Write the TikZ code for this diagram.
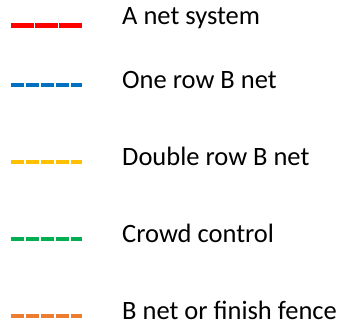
\documentclass[tikz,border=0pt]{standalone}
\usepackage{fontspec}
\setmainfont{Carlito}
\usepackage{tikz}
\usetikzlibrary{positioning}

\definecolor{netred}{HTML}{FF0000}
\definecolor{netblue}{HTML}{0070C0}
\definecolor{netyellow}{HTML}{FFC000}
\definecolor{netgreen}{HTML}{00B050}
\definecolor{netorange}{HTML}{ED7D31}

\begin{document}
\begin{tikzpicture}[
    x=1pt, y=-1pt,
    legtext/.style={anchor=base west, inner sep=0pt, font=\fontsize{26.5}{30}\selectfont},
    solidline/.style={line width=4.4pt, dash pattern=on 23pt off 1pt},
    dashline/.style={line width=4pt, dash pattern=on 12.5pt off 2.5pt}
]
    \useasboundingbox (0,0) rectangle (347,329);

    % === Labels ===
    \node[legtext] (anet) at (122, 25) {A net system};
    \node[legtext] (onerow) at (122, 88) {One row B net};
    \node[legtext] (dblrow) at (122, 165) {Double row B net};
    \node[legtext] (crowd) at (122, 242) {Crowd control};
    \node[legtext] (fence) at (122, 319) {B net or finish fence};

    % === Line samples ===
    \coordinate (anet-a) at (11, 25.5);   \coordinate (anet-b) at (83, 25.5);
    \coordinate (onerow-a) at (11, 84.5); \coordinate (onerow-b) at (82, 84.5);
    \coordinate (dblrow-a) at (11, 161.5); \coordinate (dblrow-b) at (82, 161.5);
    \coordinate (crowd-a) at (11, 239);   \coordinate (crowd-b) at (82, 239);
    \coordinate (fence-a) at (11, 315.5); \coordinate (fence-b) at (82, 315.5);

    \draw[solidline, netred] (anet-a) -- (anet-b);
    \draw[dashline, netblue] (onerow-a) -- (onerow-b);
    \draw[dashline, netyellow] (dblrow-a) -- (dblrow-b);
    \draw[dashline, netgreen] (crowd-a) -- (crowd-b);
    \draw[dashline, netorange] (fence-a) -- (fence-b);
\end{tikzpicture}
\end{document}
